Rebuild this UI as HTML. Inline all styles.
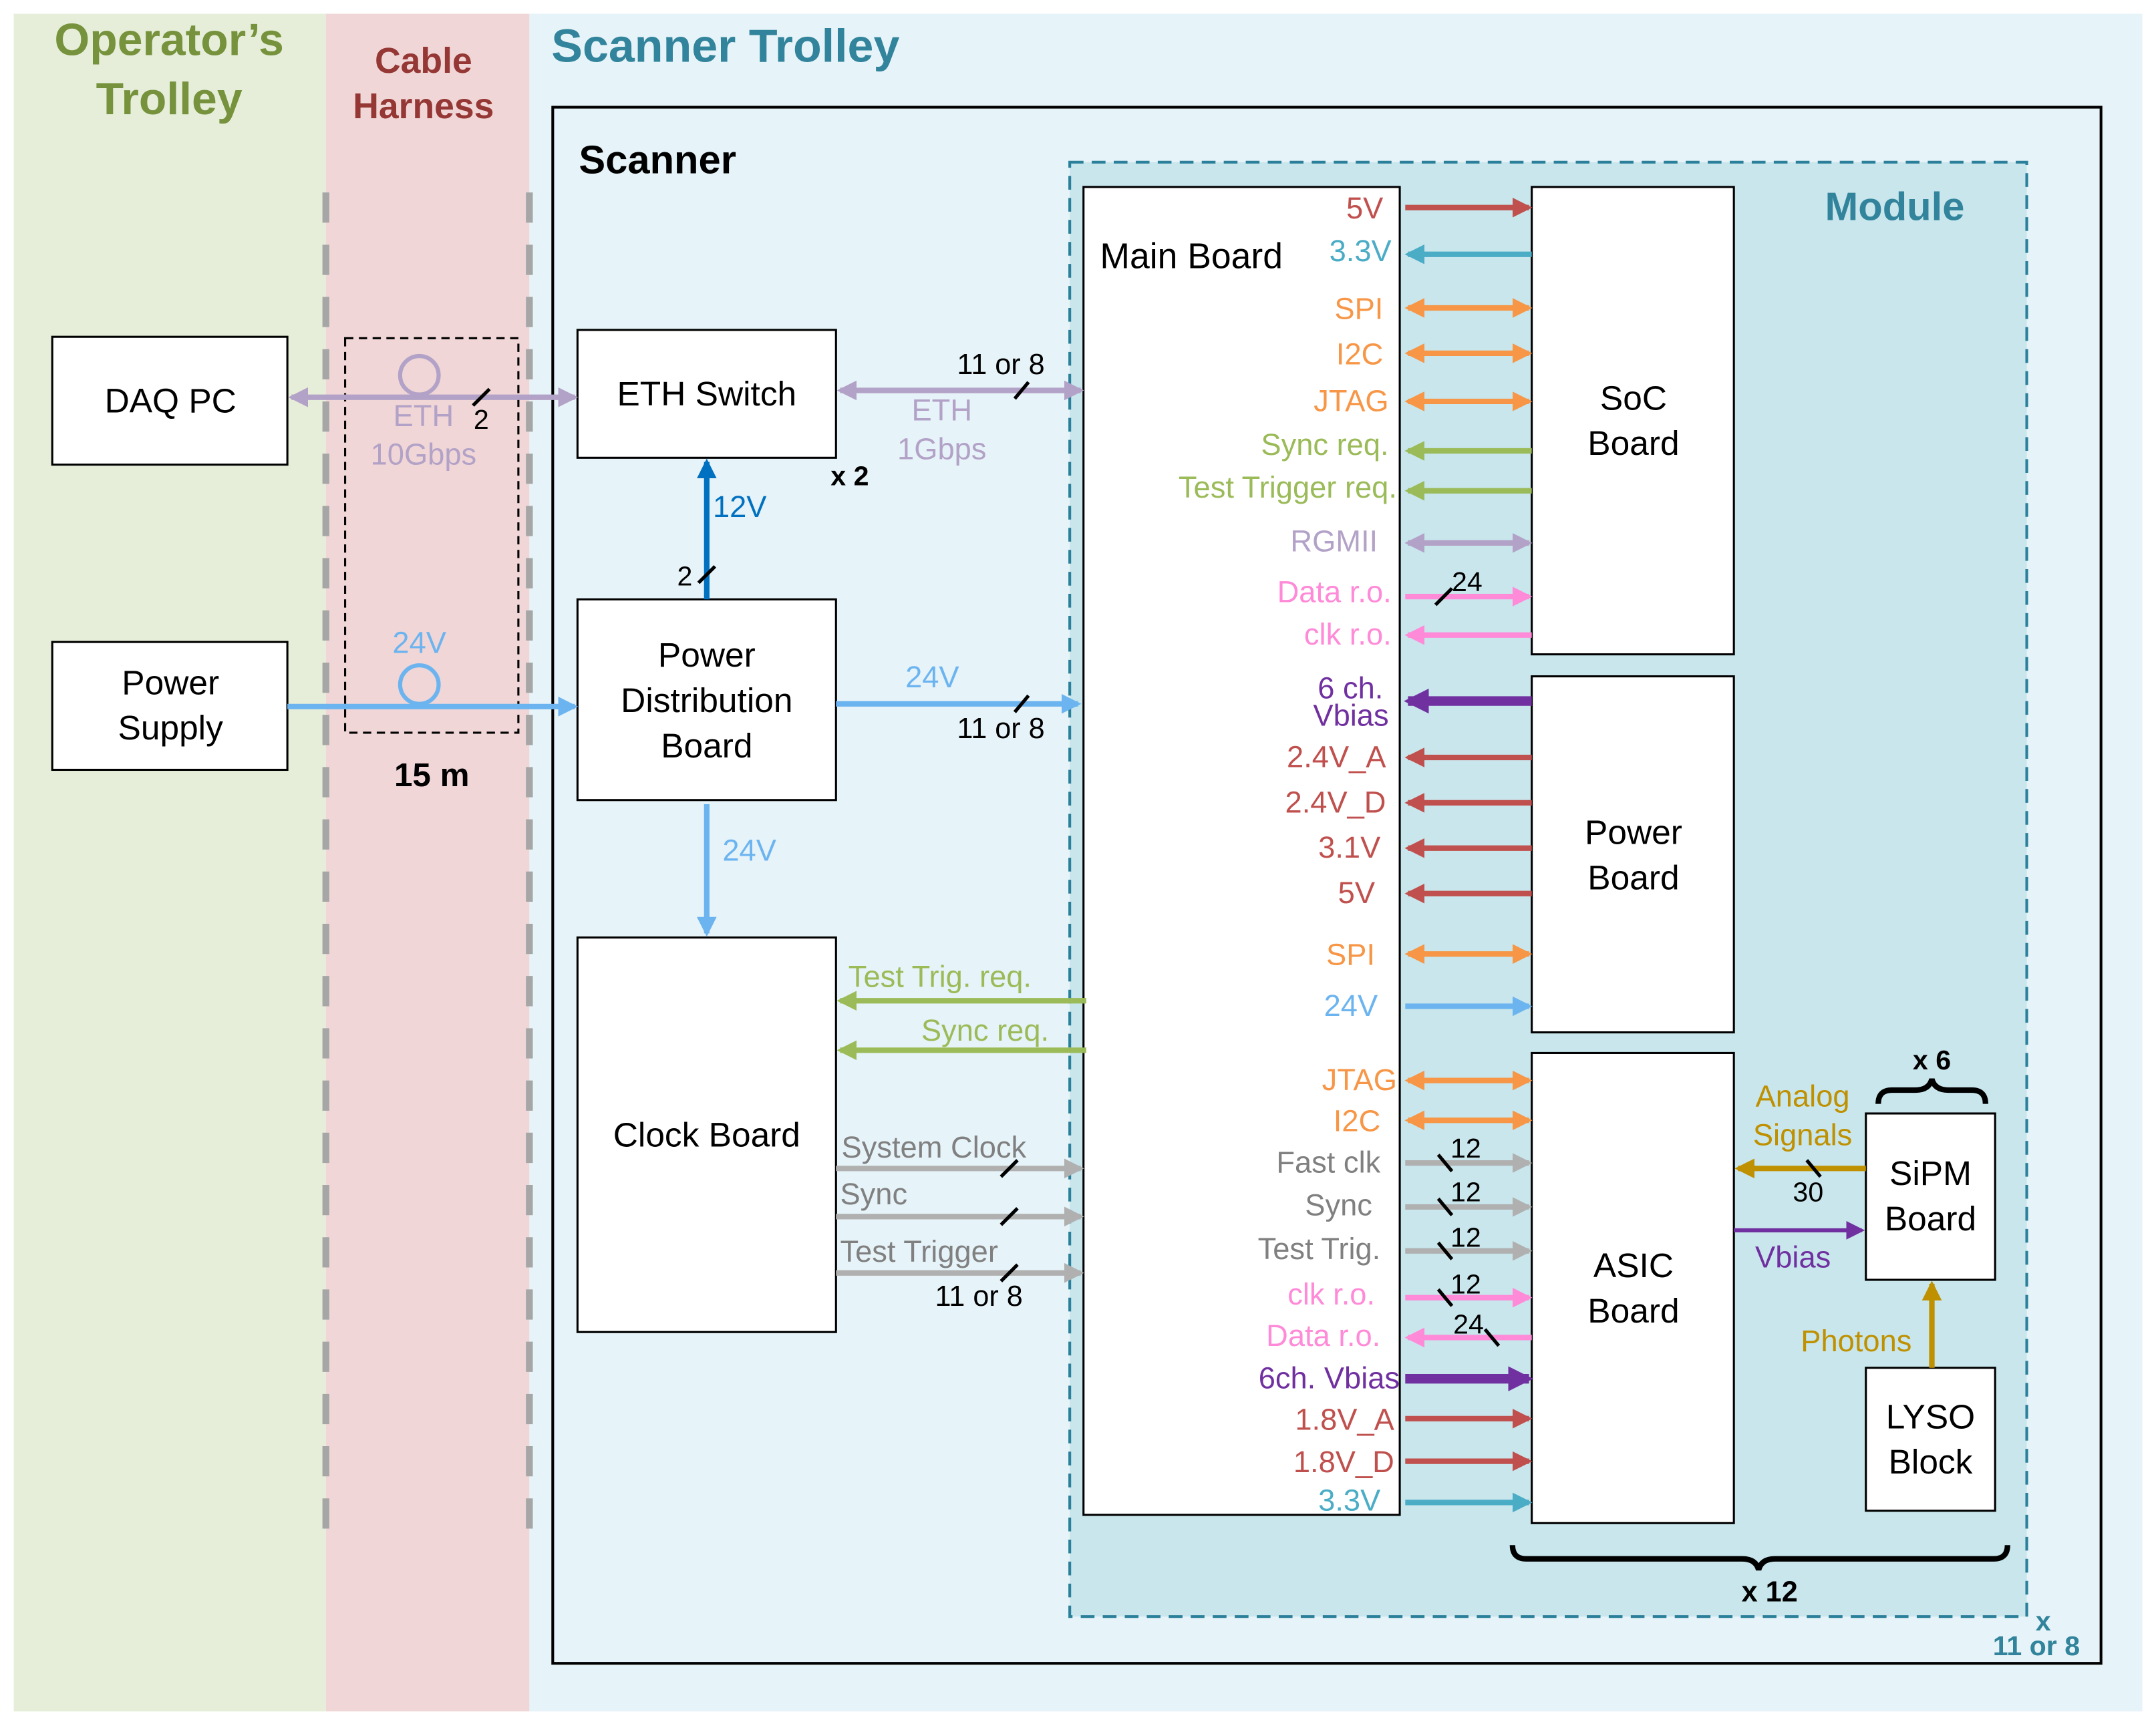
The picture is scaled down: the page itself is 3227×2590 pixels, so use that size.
<!DOCTYPE html>
<html><head><meta charset="utf-8"><style>
html,body{margin:0;padding:0;background:#fff}
svg{display:block}
text{font-family:"Liberation Sans",sans-serif}
</style></head><body>
<svg width="3227" height="2590" viewBox="0 0 1568 1258.5" preserveAspectRatio="none" xmlns="http://www.w3.org/2000/svg">
<defs>
<marker id="ared" viewBox="0 0 6 6" markerWidth="3.6" markerHeight="3.6" refX="5" refY="3" orient="auto-start-reverse" markerUnits="strokeWidth"><path d="M0,0L6,3L0,6z" fill="#c0504d"/></marker>
<marker id="acy" viewBox="0 0 6 6" markerWidth="3.6" markerHeight="3.6" refX="5" refY="3" orient="auto-start-reverse" markerUnits="strokeWidth"><path d="M0,0L6,3L0,6z" fill="#4bacc6"/></marker>
<marker id="aor" viewBox="0 0 6 6" markerWidth="3.6" markerHeight="3.6" refX="5" refY="3" orient="auto-start-reverse" markerUnits="strokeWidth"><path d="M0,0L6,3L0,6z" fill="#f79646"/></marker>
<marker id="agr" viewBox="0 0 6 6" markerWidth="3.6" markerHeight="3.6" refX="5" refY="3" orient="auto-start-reverse" markerUnits="strokeWidth"><path d="M0,0L6,3L0,6z" fill="#9bbb59"/></marker>
<marker id="alp" viewBox="0 0 6 6" markerWidth="3.6" markerHeight="3.6" refX="5" refY="3" orient="auto-start-reverse" markerUnits="strokeWidth"><path d="M0,0L6,3L0,6z" fill="#b3a2c7"/></marker>
<marker id="apk" viewBox="0 0 6 6" markerWidth="3.6" markerHeight="3.6" refX="5" refY="3" orient="auto-start-reverse" markerUnits="strokeWidth"><path d="M0,0L6,3L0,6z" fill="#ff8ad8"/></marker>
<marker id="alb" viewBox="0 0 6 6" markerWidth="3.6" markerHeight="3.6" refX="5" refY="3" orient="auto-start-reverse" markerUnits="strokeWidth"><path d="M0,0L6,3L0,6z" fill="#6cb4f0"/></marker>
<marker id="adp" viewBox="0 0 6 6" markerWidth="2.6" markerHeight="2.6" refX="5" refY="3" orient="auto-start-reverse" markerUnits="strokeWidth"><path d="M0,0L6,3L0,6z" fill="#7030a0"/></marker>
<marker id="adp2" viewBox="0 0 6 6" markerWidth="4.5" markerHeight="4.5" refX="5" refY="3" orient="auto-start-reverse" markerUnits="strokeWidth"><path d="M0,0L6,3L0,6z" fill="#7030a0"/></marker>
<marker id="agy" viewBox="0 0 6 6" markerWidth="3.6" markerHeight="3.6" refX="5" refY="3" orient="auto-start-reverse" markerUnits="strokeWidth"><path d="M0,0L6,3L0,6z" fill="#b0b0b0"/></marker>
<marker id="abl" viewBox="0 0 6 6" markerWidth="3.6" markerHeight="3.6" refX="5" refY="3" orient="auto-start-reverse" markerUnits="strokeWidth"><path d="M0,0L6,3L0,6z" fill="#0070c0"/></marker>
<marker id="agd" viewBox="0 0 6 6" markerWidth="3.6" markerHeight="3.6" refX="5" refY="3" orient="auto-start-reverse" markerUnits="strokeWidth"><path d="M0,0L6,3L0,6z" fill="#bf9000"/></marker>
</defs>
<rect width="1568" height="1258.5" fill="#fff"/>
<rect x="10" y="10" width="227" height="1235" fill="#e6eed9"/>
<rect x="237" y="10" width="148" height="1235" fill="#f0d6d6"/>
<rect x="385" y="10" width="1173" height="1235" fill="#e6f3f8"/>
<line x1="237" y1="140" x2="237" y2="1120" stroke="#a6a6a6" stroke-width="5" stroke-dasharray="22,16"/>
<line x1="385" y1="140" x2="385" y2="1120" stroke="#a6a6a6" stroke-width="5" stroke-dasharray="22,16"/>
<rect x="402" y="78" width="1126" height="1132" fill="none" stroke="#000" stroke-width="2"/>
<rect x="778" y="118" width="696" height="1058" fill="#c8e6ec" stroke="#2a7f9a" stroke-width="2" stroke-dasharray="10,6"/>
<text x="123" y="40" font-size="33" font-weight="bold" fill="#76923c" text-anchor="middle">Operator’s</text>
<text x="123" y="83" font-size="33" font-weight="bold" fill="#76923c" text-anchor="middle">Trolley</text>
<text x="308" y="53" font-size="26" font-weight="bold" fill="#953735" text-anchor="middle">Cable</text>
<text x="308" y="86" font-size="26" font-weight="bold" fill="#953735" text-anchor="middle">Harness</text>
<text x="401" y="45" font-size="34" font-weight="bold" fill="#31849b">Scanner Trolley</text>
<text x="421" y="126" font-size="29" font-weight="bold" fill="#000">Scanner</text>
<text x="1378" y="160" font-size="29" font-weight="bold" fill="#31849b" text-anchor="middle">Module</text>
<g fill="#fff" stroke="#000" stroke-width="1.5">
<rect x="788" y="136" width="230" height="966"/>
<rect x="1114" y="136" width="147" height="340"/>
<rect x="1114" y="492" width="147" height="259"/>
<rect x="1114" y="766" width="147" height="342"/>
<rect x="1357" y="810" width="94" height="121"/>
<rect x="1357" y="995" width="94" height="104"/>
<rect x="38" y="245" width="171" height="93"/>
<rect x="38" y="467" width="171" height="93"/>
<rect x="420" y="240" width="188" height="93"/>
<rect x="420" y="436" width="188" height="146"/>
<rect x="420" y="682" width="188" height="287"/>
</g>
<rect x="251" y="246" width="126" height="287" fill="none" stroke="#000" stroke-width="1.5" stroke-dasharray="6,4"/>
<g font-size="25" fill="#000" text-anchor="middle">
<text x="800" y="195" text-anchor="start" font-size="26">Main Board</text>
<text x="1188" y="298">SoC</text><text x="1188" y="331">Board</text>
<text x="1188" y="614">Power</text><text x="1188" y="647">Board</text>
<text x="1188" y="929">ASIC</text><text x="1188" y="962">Board</text>
<text x="1404" y="862">SiPM</text><text x="1404" y="895">Board</text>
<text x="1404" y="1039">LYSO</text><text x="1404" y="1072">Block</text>
<text x="124" y="300">DAQ PC</text>
<text x="124" y="505">Power</text><text x="124" y="538">Supply</text>
<text x="514" y="295">ETH Switch</text>
<text x="514" y="485">Power</text><text x="514" y="518">Distribution</text><text x="514" y="551">Board</text>
<text x="514" y="834">Clock Board</text>
</g>
<g stroke-width="4" fill="none">
<line x1="1022" y1="151" x2="1112" y2="151" stroke="#c0504d" marker-end="url(#ared)"/>
<line x1="1114" y1="185" x2="1024" y2="185" stroke="#4bacc6" marker-end="url(#acy)"/>
<line x1="1024" y1="224" x2="1112" y2="224" stroke="#f79646" marker-start="url(#aor)" marker-end="url(#aor)"/>
<line x1="1024" y1="257" x2="1112" y2="257" stroke="#f79646" marker-start="url(#aor)" marker-end="url(#aor)"/>
<line x1="1024" y1="292" x2="1112" y2="292" stroke="#f79646" marker-start="url(#aor)" marker-end="url(#aor)"/>
<line x1="1114" y1="328" x2="1024" y2="328" stroke="#9bbb59" marker-end="url(#agr)"/>
<line x1="1114" y1="357" x2="1024" y2="357" stroke="#9bbb59" marker-end="url(#agr)"/>
<line x1="1024" y1="395" x2="1112" y2="395" stroke="#b3a2c7" marker-start="url(#alp)" marker-end="url(#alp)"/>
<line x1="1022" y1="434" x2="1112" y2="434" stroke="#ff8ad8" marker-end="url(#apk)"/>
<line x1="1114" y1="462" x2="1024" y2="462" stroke="#ff8ad8" marker-end="url(#apk)"/>
<line x1="1114" y1="510" x2="1024" y2="510" stroke="#7030a0" stroke-width="7" marker-end="url(#adp)"/>
<line x1="1114" y1="551" x2="1024" y2="551" stroke="#c0504d" marker-end="url(#ared)"/>
<line x1="1114" y1="584" x2="1024" y2="584" stroke="#c0504d" marker-end="url(#ared)"/>
<line x1="1114" y1="617" x2="1024" y2="617" stroke="#c0504d" marker-end="url(#ared)"/>
<line x1="1114" y1="650" x2="1024" y2="650" stroke="#c0504d" marker-end="url(#ared)"/>
<line x1="1024" y1="694" x2="1112" y2="694" stroke="#f79646" marker-start="url(#aor)" marker-end="url(#aor)"/>
<line x1="1022" y1="732" x2="1112" y2="732" stroke="#6cb4f0" marker-end="url(#alb)"/>
<line x1="1024" y1="786" x2="1112" y2="786" stroke="#f79646" marker-start="url(#aor)" marker-end="url(#aor)"/>
<line x1="1024" y1="815" x2="1112" y2="815" stroke="#f79646" marker-start="url(#aor)" marker-end="url(#aor)"/>
<line x1="1022" y1="846" x2="1112" y2="846" stroke="#b0b0b0" marker-end="url(#agy)"/>
<line x1="1022" y1="878" x2="1112" y2="878" stroke="#b0b0b0" marker-end="url(#agy)"/>
<line x1="1022" y1="910" x2="1112" y2="910" stroke="#b0b0b0" marker-end="url(#agy)"/>
<line x1="1022" y1="944" x2="1112" y2="944" stroke="#ff8ad8" marker-end="url(#apk)"/>
<line x1="1114" y1="973" x2="1024" y2="973" stroke="#ff8ad8" marker-end="url(#apk)"/>
<line x1="1022" y1="1003" x2="1112" y2="1003" stroke="#7030a0" stroke-width="7" marker-end="url(#adp)"/>
<line x1="1022" y1="1032" x2="1112" y2="1032" stroke="#c0504d" marker-end="url(#ared)"/>
<line x1="1022" y1="1063" x2="1112" y2="1063" stroke="#c0504d" marker-end="url(#ared)"/>
<line x1="1022" y1="1093" x2="1112" y2="1093" stroke="#4bacc6" marker-end="url(#acy)"/>
<line x1="790" y1="728" x2="611" y2="728" stroke="#9bbb59" marker-end="url(#agr)"/>
<line x1="790" y1="764" x2="611" y2="764" stroke="#9bbb59" marker-end="url(#agr)"/>
<line x1="608" y1="850" x2="786" y2="850" stroke="#b0b0b0" marker-end="url(#agy)"/>
<line x1="608" y1="885" x2="786" y2="885" stroke="#b0b0b0" marker-end="url(#agy)"/>
<line x1="608" y1="926" x2="786" y2="926" stroke="#b0b0b0" marker-end="url(#agy)"/>
<line x1="611" y1="284" x2="786" y2="284" stroke="#b3a2c7" marker-start="url(#alp)" marker-end="url(#alp)"/>
<line x1="608" y1="512" x2="784" y2="512" stroke="#6cb4f0" marker-end="url(#alb)"/>
<line x1="514" y1="585" x2="514" y2="679" stroke="#6cb4f0" marker-end="url(#alb)"/>
<line x1="514" y1="436" x2="514" y2="336" stroke="#0070c0" marker-end="url(#abl)"/>
<line x1="212" y1="289" x2="418" y2="289" stroke="#b3a2c7" marker-start="url(#alp)" marker-end="url(#alp)"/>
<line x1="209" y1="514" x2="418" y2="514" stroke="#6cb4f0" marker-end="url(#alb)"/>
<line x1="1357" y1="850" x2="1264" y2="850" stroke="#bf9000" marker-end="url(#agd)"/>
<line x1="1261" y1="895" x2="1354" y2="895" stroke="#7030a0" marker-end="url(#adp2)" stroke-width="3"/>
<line x1="1405" y1="995" x2="1405" y2="934" stroke="#bf9000" marker-end="url(#agd)"/>
</g>
<circle cx="305" cy="273" r="14" fill="none" stroke="#b3a2c7" stroke-width="3"/>
<circle cx="305" cy="498" r="14" fill="none" stroke="#6cb4f0" stroke-width="3"/>
<g stroke="#000" stroke-width="2.5">
<line x1="344" y1="295" x2="356" y2="283"/><line x1="738" y1="290" x2="748" y2="278"/>
<line x1="508" y1="424" x2="520" y2="412"/><line x1="738" y1="518" x2="748" y2="506"/>
<line x1="1044" y1="440" x2="1056" y2="428"/>
<line x1="728" y1="856" x2="740" y2="844"/><line x1="728" y1="891" x2="740" y2="879"/><line x1="728" y1="932" x2="740" y2="920"/>
<line x1="1046" y1="840" x2="1056" y2="852"/><line x1="1046" y1="872" x2="1056" y2="884"/><line x1="1046" y1="904" x2="1056" y2="916"/><line x1="1046" y1="938" x2="1056" y2="950"/><line x1="1080" y1="967" x2="1090" y2="979"/>
<line x1="1314" y1="844" x2="1324" y2="856"/>
</g>
<g font-size="22" text-anchor="end">
<text x="1006" y="159" fill="#c0504d">5V</text>
<text x="1012" y="190" fill="#4bacc6">3.3V</text>
<text x="1006" y="232" fill="#f79646">SPI</text>
<text x="1006" y="265" fill="#f79646">I2C</text>
<text x="1010" y="299" fill="#f79646">JTAG</text>
<text x="1010" y="331" fill="#9bbb59">Sync req.</text>
<text x="1016" y="362" fill="#9bbb59">Test Trigger req.</text>
<text x="1002" y="401" fill="#b3a2c7">RGMII</text>
<text x="1012" y="438" fill="#ff8ad8">Data r.o.</text>
<text x="1012" y="469" fill="#ff8ad8">clk r.o.</text>
<text x="1006" y="508" fill="#7030a0">6 ch.</text>
<text x="1010" y="528" fill="#7030a0">Vbias</text>
<text x="1008" y="558" fill="#c0504d">2.4V_A</text>
<text x="1008" y="591" fill="#c0504d">2.4V_D</text>
<text x="1004" y="624" fill="#c0504d">3.1V</text>
<text x="1000" y="657" fill="#c0504d">5V</text>
<text x="1000" y="702" fill="#f79646">SPI</text>
<text x="1002" y="739" fill="#6cb4f0">24V</text>
<text x="1016" y="793" fill="#f79646">JTAG</text>
<text x="1004" y="823" fill="#f79646">I2C</text>
<text x="1004" y="853" fill="#808080">Fast clk</text>
<text x="998" y="884" fill="#808080">Sync</text>
<text x="1004" y="916" fill="#808080">Test Trig.</text>
<text x="1000" y="949" fill="#ff8ad8">clk r.o.</text>
<text x="1004" y="979" fill="#ff8ad8">Data r.o.</text>
<text x="1018" y="1010" fill="#7030a0">6ch. Vbias</text>
<text x="1014" y="1040" fill="#c0504d">1.8V_A</text>
<text x="1014" y="1071" fill="#c0504d">1.8V_D</text>
<text x="1004" y="1099" fill="#4bacc6">3.3V</text>
</g>
<g font-size="22">
<text x="617" y="718" fill="#9bbb59">Test Trig.  req.</text>
<text x="670" y="757" fill="#9bbb59">Sync req.</text>
<text x="612" y="842" fill="#808080">System Clock</text>
<text x="611" y="876" fill="#808080">Sync</text>
<text x="611" y="918" fill="#808080">Test Trigger</text>
<text x="680" y="950" fill="#000" font-size="21">11 or 8</text>
<text x="696" y="272" fill="#000" font-size="21">11 or 8</text>
<text x="696" y="537" fill="#000" font-size="21">11 or 8</text>
<text x="685" y="306" fill="#b3a2c7" text-anchor="middle">ETH</text>
<text x="685" y="334" fill="#b3a2c7" text-anchor="middle">1Gbps</text>
<text x="678" y="500" fill="#6cb4f0" text-anchor="middle">24V</text>
<text x="545" y="626" fill="#6cb4f0" text-anchor="middle">24V</text>
<text x="538" y="376" fill="#0070c0" text-anchor="middle">12V</text>
<text x="498" y="426" fill="#000" font-size="20" text-anchor="middle">2</text>
<text x="308" y="310" fill="#b3a2c7" text-anchor="middle">ETH</text>
<text x="308" y="338" fill="#b3a2c7" text-anchor="middle">10Gbps</text>
<text x="350" y="312" fill="#000" font-size="20" text-anchor="middle">2</text>
<text x="305" y="475" fill="#6cb4f0" text-anchor="middle">24V</text>
<text x="314" y="572" fill="#000" font-weight="bold" font-size="24" text-anchor="middle">15 m</text>
<text x="618" y="353" fill="#000" font-weight="bold" font-size="20" text-anchor="middle">x 2</text>
<text x="1311" y="805" fill="#bf9000" text-anchor="middle">Analog</text>
<text x="1311" y="833" fill="#bf9000" text-anchor="middle">Signals</text>
<text x="1315" y="874" fill="#000" font-size="20" text-anchor="middle">30</text>
<text x="1304" y="922" fill="#7030a0" text-anchor="middle">Vbias</text>
<text x="1350" y="983" fill="#bf9000" text-anchor="middle">Photons</text>
<text x="1067" y="430" fill="#000" font-size="20" text-anchor="middle">24</text>
<text x="1066" y="842" fill="#000" font-size="20" text-anchor="middle">12</text>
<text x="1066" y="874" fill="#000" font-size="20" text-anchor="middle">12</text>
<text x="1066" y="907" fill="#000" font-size="20" text-anchor="middle">12</text>
<text x="1066" y="941" fill="#000" font-size="20" text-anchor="middle">12</text>
<text x="1068" y="970" fill="#000" font-size="20" text-anchor="middle">24</text>
<text x="1405" y="778" fill="#000" font-weight="bold" font-size="20" text-anchor="middle">x 6</text>
<text x="1287" y="1165" fill="#000" font-weight="bold" font-size="21" text-anchor="middle">x 12</text>
<text x="1486" y="1186" fill="#31849b" font-weight="bold" font-size="20" text-anchor="middle">x</text>
<text x="1481" y="1204" fill="#31849b" font-weight="bold" font-size="20" text-anchor="middle">11 or 8</text>
</g>
<path d="M1366,803 q0,-10 10,-10 h17 q10,0 12,-8 q2,8 12,8 h17 q10,0 10,10" fill="none" stroke="#000" stroke-width="4"/>
<path d="M1100,1124 q0,10 10,10 h157 q10,0 12,8 q2,-8 12,-8 h159 q10,0 10,-10" fill="none" stroke="#000" stroke-width="4"/>
</svg>
</body></html>
